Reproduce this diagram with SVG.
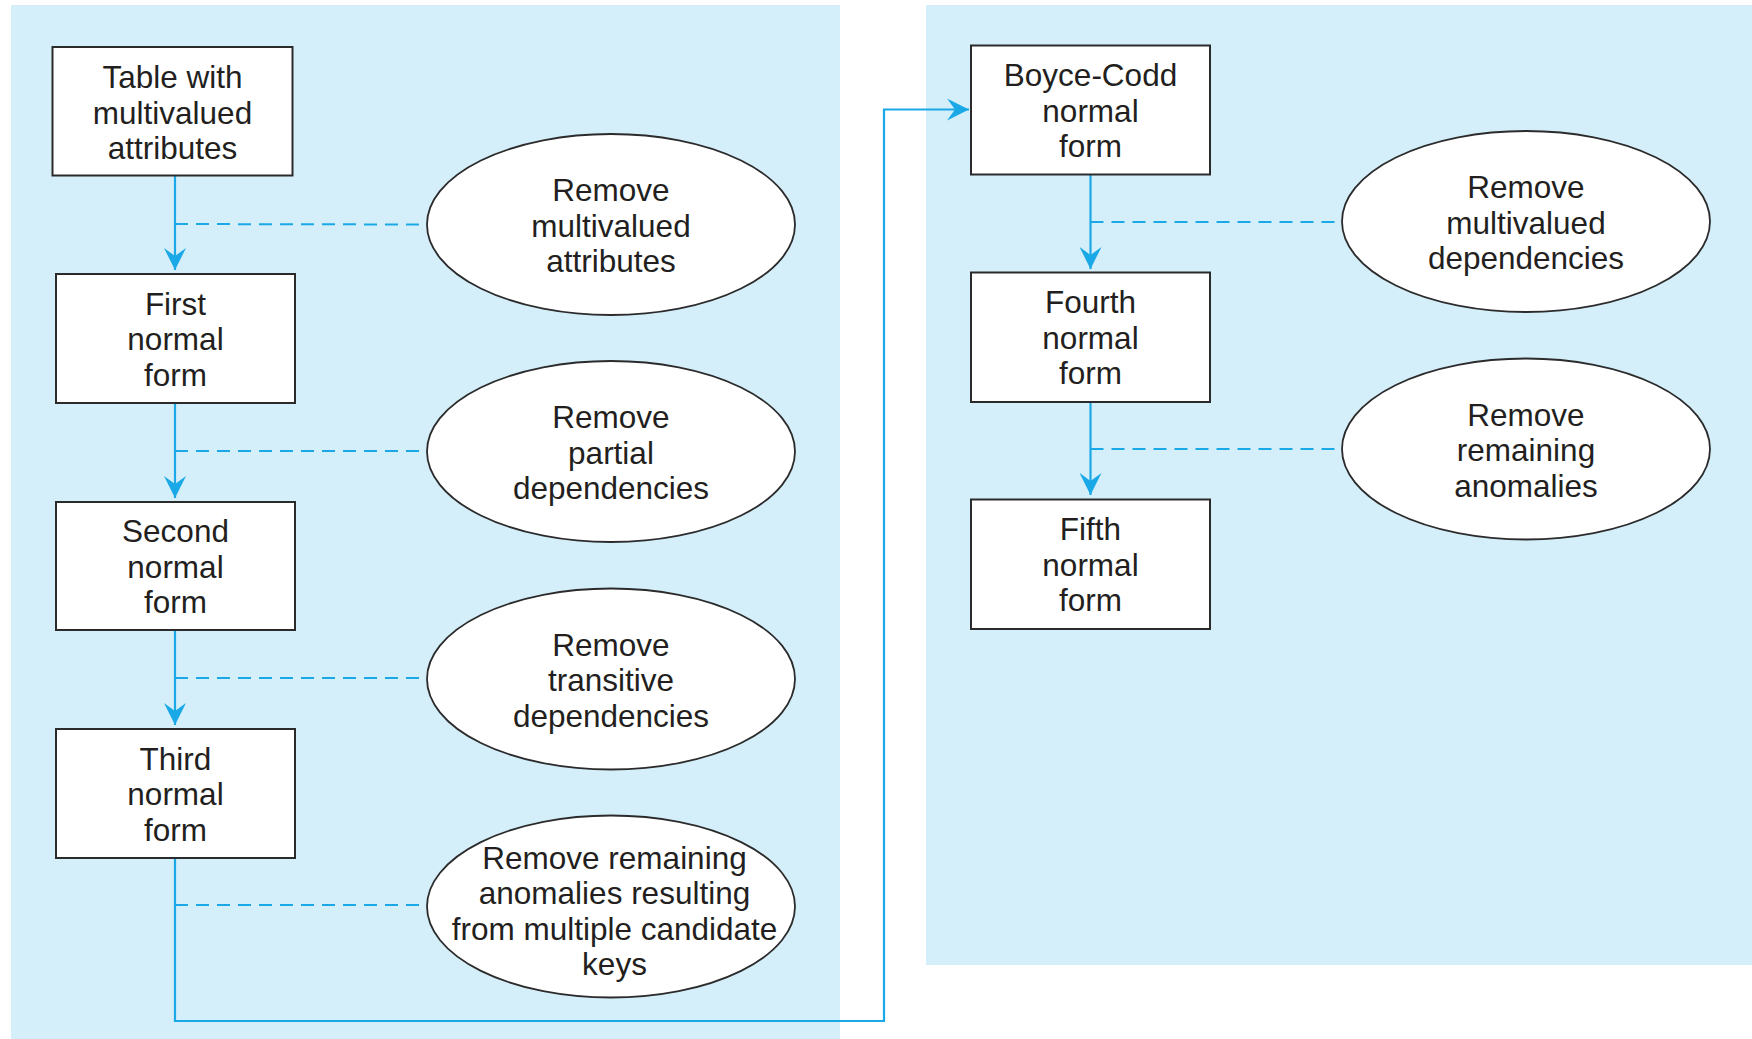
<svg xmlns="http://www.w3.org/2000/svg" width="1752" height="1039" viewBox="0 0 1752 1039">
<style>
.panel{fill:#d4eefa}
.box{fill:#fff;stroke:#2b2b2b;stroke-width:2}
.ell{fill:#fff;stroke:#2b2b2b;stroke-width:1.8}
.t{font-family:"Liberation Sans",Arial,sans-serif;font-size:31.5px;fill:#231f20;text-anchor:middle}
.flow{fill:none;stroke:#1aa9e6;stroke-width:2.2}
.dash{fill:none;stroke:#1aa9e6;stroke-width:2;stroke-dasharray:13 8}
</style>
<defs>
<marker id="arr" viewBox="-22 -11 22 22" refX="0" refY="0" markerWidth="22" markerHeight="22" markerUnits="userSpaceOnUse" orient="auto">
<path d="M0,0 L-22,-11 L-14,0 L-22,11 z" fill="#1aa9e6"/>
</marker>
</defs>
<rect width="1752" height="1039" fill="#fff"/>
<rect class="panel" x="11" y="5" width="829" height="1034"/>
<rect class="panel" x="926" y="5" width="826" height="960"/>

<g id="connectors">
<line class="flow" x1="175" y1="176" x2="175" y2="270" marker-end="url(#arr)"/>
<line class="flow" x1="175" y1="403" x2="175" y2="498" marker-end="url(#arr)"/>
<line class="flow" x1="175" y1="630" x2="175" y2="725" marker-end="url(#arr)"/>
<polyline class="flow" points="175,858 175,1021 884,1021 884,109.5 969,109.5" marker-end="url(#arr)"/>
<line class="flow" x1="1090.5" y1="174" x2="1090.5" y2="269" marker-end="url(#arr)"/>
<line class="flow" x1="1090.5" y1="402" x2="1090.5" y2="495" marker-end="url(#arr)"/>
<line class="dash" x1="175" y1="224" x2="427" y2="224.5"/>
<line class="dash" x1="175" y1="451" x2="427" y2="451"/>
<line class="dash" x1="175" y1="678" x2="427" y2="678"/>
<line class="dash" x1="175" y1="905" x2="427" y2="905"/>
<line class="dash" x1="1090.5" y1="222" x2="1342" y2="222"/>
<line class="dash" x1="1090.5" y1="449" x2="1342" y2="449"/>
</g>

<g id="n-table">
<rect class="box" x="52.5" y="47" width="240" height="128.5"/>
<text class="t" x="172.5" y="88">Table with</text>
<text class="t" x="172.5" y="123.5">multivalued</text>
<text class="t" x="172.5" y="159">attributes</text>
</g>
<g id="n-1nf">
<rect class="box" x="56" y="274" width="239" height="129"/>
<text class="t" x="175.5" y="314.5">First</text>
<text class="t" x="175.5" y="350">normal</text>
<text class="t" x="175.5" y="385.5">form</text>
</g>
<g id="n-2nf">
<rect class="box" x="56" y="502" width="239" height="128"/>
<text class="t" x="175.5" y="542">Second</text>
<text class="t" x="175.5" y="577.5">normal</text>
<text class="t" x="175.5" y="613">form</text>
</g>
<g id="n-3nf">
<rect class="box" x="56" y="729" width="239" height="129"/>
<text class="t" x="175.5" y="769.5">Third</text>
<text class="t" x="175.5" y="805">normal</text>
<text class="t" x="175.5" y="840.5">form</text>
</g>
<g id="e-mva">
<ellipse class="ell" cx="611" cy="224.5" rx="184" ry="90.5"/>
<text class="t" x="611" y="201">Remove</text>
<text class="t" x="611" y="236.5">multivalued</text>
<text class="t" x="611" y="272">attributes</text>
</g>
<g id="e-partial">
<ellipse class="ell" cx="611" cy="451.5" rx="184" ry="90.5"/>
<text class="t" x="611" y="428">Remove</text>
<text class="t" x="611" y="463.5">partial</text>
<text class="t" x="611" y="499">dependencies</text>
</g>
<g id="e-trans">
<ellipse class="ell" cx="611" cy="679" rx="184" ry="90.5"/>
<text class="t" x="611" y="655.5">Remove</text>
<text class="t" x="611" y="691">transitive</text>
<text class="t" x="611" y="726.5">dependencies</text>
</g>
<g id="e-keys">
<ellipse class="ell" cx="611" cy="906.5" rx="184" ry="91"/>
<text class="t" x="614.5" y="868.5">Remove remaining</text>
<text class="t" x="614.5" y="904">anomalies resulting</text>
<text class="t" x="614.5" y="939.5">from multiple candidate</text>
<text class="t" x="614.5" y="975">keys</text>
</g>
<g id="n-bcnf">
<rect class="box" x="971" y="45.5" width="239" height="129"/>
<text class="t" x="1090.5" y="86">Boyce-Codd</text>
<text class="t" x="1090.5" y="121.5">normal</text>
<text class="t" x="1090.5" y="157">form</text>
</g>
<g id="n-4nf">
<rect class="box" x="971" y="272.5" width="239" height="129.5"/>
<text class="t" x="1090.5" y="313">Fourth</text>
<text class="t" x="1090.5" y="348.5">normal</text>
<text class="t" x="1090.5" y="384">form</text>
</g>
<g id="n-5nf">
<rect class="box" x="971" y="499.5" width="239" height="129.5"/>
<text class="t" x="1090.5" y="540">Fifth</text>
<text class="t" x="1090.5" y="575.5">normal</text>
<text class="t" x="1090.5" y="611">form</text>
</g>
<g id="e-mvd">
<ellipse class="ell" cx="1526" cy="221.5" rx="184" ry="90.5"/>
<text class="t" x="1526" y="198">Remove</text>
<text class="t" x="1526" y="233.5">multivalued</text>
<text class="t" x="1526" y="269">dependencies</text>
</g>
<g id="e-rem">
<ellipse class="ell" cx="1526" cy="449" rx="184" ry="90.5"/>
<text class="t" x="1526" y="425.5">Remove</text>
<text class="t" x="1526" y="461">remaining</text>
<text class="t" x="1526" y="496.5">anomalies</text>
</g>
</svg>
